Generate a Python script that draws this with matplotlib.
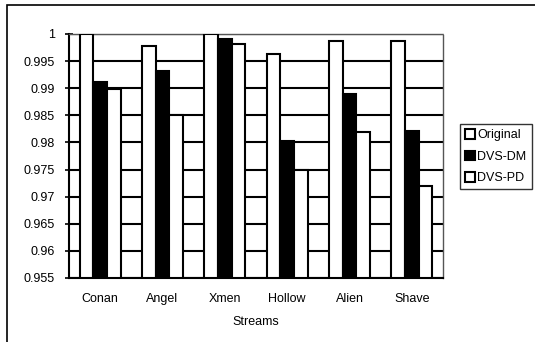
import numpy as np
import matplotlib
matplotlib.use('Agg')
import matplotlib.pyplot as plt
from matplotlib.patches import Rectangle

plt.rcParams['font.family'] = ['Liberation Sans', 'DejaVu Sans']

# data
streams = ['Conan', 'Angel', 'Xmen', 'Hollow', 'Alien', 'Shave']
original = [1.0, 0.9978, 1.0, 0.9963, 0.9987, 0.9987]
dvs_dm = [0.9911, 0.9932, 0.9991, 0.9802, 0.9890, 0.9821]
dvs_pd = [0.9899, 0.9850, 0.9982, 0.9750, 0.9820, 0.9719]
series_names = ['Original', 'DVS-DM', 'DVS-PD']
y_ticks = [0.955, 0.96, 0.965, 0.97, 0.975, 0.98, 0.985, 0.99, 0.995, 1.0]

fig = plt.figure(figsize=(5.35, 3.42), dpi=100)
# outer frame of the scanned figure
fig.patches.append(Rectangle((7 / 535, -0.1), 1.2, 1 - 5 / 342 + 0.1,
                             transform=fig.transFigure, fill=False,
                             edgecolor='black', linewidth=1.2))

ax = fig.add_axes([69 / 535, 1 - 278 / 342, 374 / 535, 244 / 342])

x = np.arange(len(streams))
w = 0.22
ax.bar(x - w, [v - 0.955 for v in original], w, bottom=0.955, color='white',
       edgecolor='black', linewidth=1.5, label=series_names[0], zorder=3)
ax.bar(x, [v - 0.955 for v in dvs_dm], w, bottom=0.955, color='black',
       edgecolor='black', linewidth=1.5, label=series_names[1], zorder=3)
ax.bar(x + w, [v - 0.955 for v in dvs_pd], w, bottom=0.955, color='white',
       edgecolor='black', linewidth=1.5, label=series_names[2], zorder=3)

ax.set_ylim(0.955, 1.0)
ax.set_xlim(-0.5, len(streams) - 0.5)
ax.set_yticks(y_ticks)
ax.set_yticklabels(['%g' % t for t in y_ticks], fontsize=9)
ax.set_xticks(x)
ax.set_xticklabels(streams, fontsize=9)
ax.tick_params(axis='x', length=0, pad=11)
ax.tick_params(axis='y', direction='inout', length=6, width=1.2, pad=7)
ax.yaxis.grid(True, color='black', linewidth=1.5, zorder=0)
ax.set_axisbelow(True)
for s in ax.spines.values():
    s.set_color('#555555')
    s.set_linewidth(1.0)
    s.set_linestyle((0, (1, 1)))
ax.spines['left'].set_linestyle('-')
ax.spines['left'].set_color('black')
ax.spines['left'].set_linewidth(1.5)
ax.spines['bottom'].set_linestyle('-')
ax.spines['bottom'].set_color('black')
ax.spines['bottom'].set_linewidth(1.5)
ax.set_xlabel('Streams', fontsize=9, labelpad=8)

leg = ax.legend(loc='upper left', bbox_to_anchor=(460 / 535, 1 - 124 / 342),
                bbox_transform=fig.transFigure, fontsize=9, frameon=True,
                fancybox=False, handlelength=0.8, handleheight=0.8,
                handletextpad=0.2, borderpad=0.4, labelspacing=0.75,
                borderaxespad=0)
leg.get_frame().set_edgecolor('black')
leg.get_frame().set_linewidth(1.0)

fig.savefig('out.png', dpi=100)
